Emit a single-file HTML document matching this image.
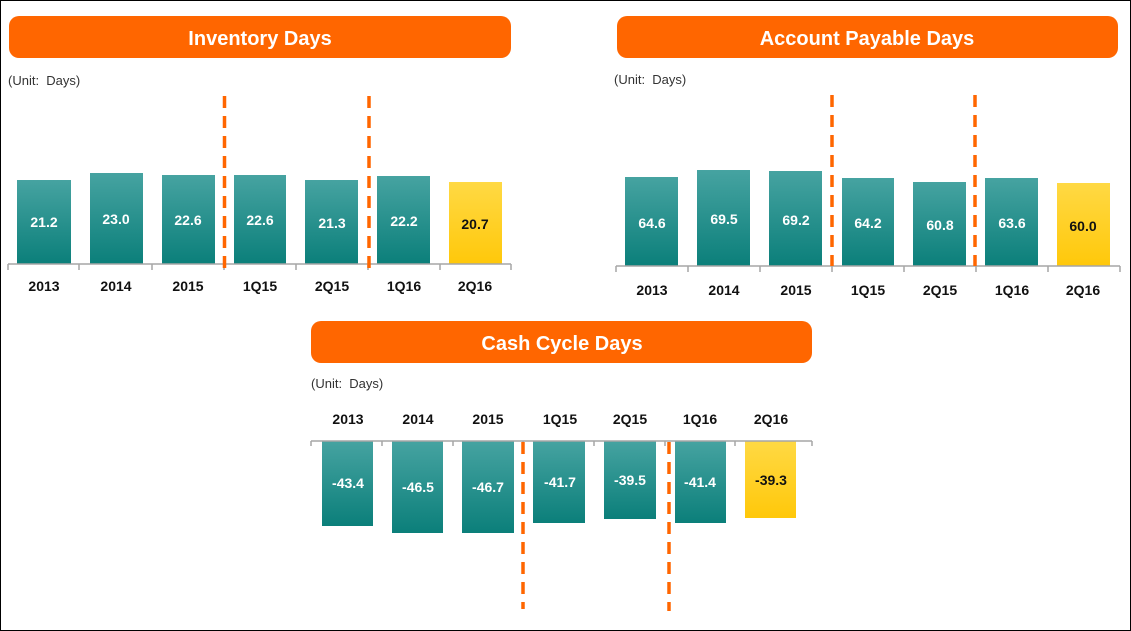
<!DOCTYPE html>
<html><head><meta charset="utf-8"><style>
html,body{margin:0;padding:0;background:#fff}
svg{display:block;font-family:"Liberation Sans",sans-serif}
.t{fill:#fff;font-weight:bold;font-size:20px}
.u{fill:#333;font-size:13px}
.c{font-weight:bold;font-size:14px;fill:#111;text-anchor:middle}
.v{font-weight:bold;font-size:14px;fill:#fff;text-anchor:middle}
.vy{font-weight:bold;font-size:14px;fill:#111;text-anchor:middle}
.ax{stroke:#a6a6a6;stroke-width:1.5;fill:none}
.d{stroke:#ff6600;stroke-width:3.5;stroke-dasharray:12,8}
</style></head><body>
<svg width="1131" height="631" viewBox="0 0 1131 631">
<defs>
<linearGradient id="g" x1="0" y1="0" x2="0" y2="1"><stop offset="0" stop-color="#46a3a1"/><stop offset="1" stop-color="#0b7f7a"/></linearGradient>
<linearGradient id="y" x1="0" y1="0" x2="0" y2="1"><stop offset="0" stop-color="#ffd944"/><stop offset="1" stop-color="#ffc80a"/></linearGradient>
</defs>
<rect x="0.5" y="0.5" width="1130" height="630" fill="#fff" stroke="#000"/>

<!-- Inventory -->
<rect x="9" y="16" width="502" height="42" rx="10" fill="#ff6600"/>
<text class="t" x="260" y="45" text-anchor="middle">Inventory Days</text>
<text class="u" x="8" y="85">(Unit:&#160; Days)</text>
<rect x="17" y="180" width="54" height="84" fill="url(#g)"/>
<rect x="90" y="173" width="53" height="91" fill="url(#g)"/>
<rect x="162" y="175" width="53" height="89" fill="url(#g)"/>
<rect x="234" y="175" width="52" height="89" fill="url(#g)"/>
<rect x="305" y="180" width="53" height="84" fill="url(#g)"/>
<rect x="377" y="176" width="53" height="88" fill="url(#g)"/>
<rect x="449" y="182" width="53" height="82" fill="url(#y)"/>
<path class="ax" d="M8 264H511M8 264v6M79 264v6M152 264v6M224 264v6M296 264v6M368 264v6M440 264v6M511 264v6"/>
<line class="d" x1="224.5" y1="96" x2="224.5" y2="270"/>
<line class="d" x1="369" y1="96" x2="369" y2="270"/>
<g class="v"><text x="44" y="227">21.2</text><text x="116" y="224">23.0</text><text x="188" y="225">22.6</text><text x="260" y="225">22.6</text><text x="332" y="228">21.3</text><text x="404" y="226">22.2</text></g>
<text class="vy" x="475" y="229">20.7</text>
<g class="c"><text x="44" y="291">2013</text><text x="116" y="291">2014</text><text x="188" y="291">2015</text><text x="260" y="291">1Q15</text><text x="332" y="291">2Q15</text><text x="404" y="291">1Q16</text><text x="475" y="291">2Q16</text></g>

<!-- AP -->
<rect x="617" y="16" width="501" height="42" rx="10" fill="#ff6600"/>
<text class="t" x="867" y="45" text-anchor="middle">Account Payable Days</text>
<text class="u" x="614" y="84">(Unit:&#160; Days)</text>
<rect x="625" y="177" width="53" height="89" fill="url(#g)"/>
<rect x="697" y="170" width="53" height="96" fill="url(#g)"/>
<rect x="769" y="171" width="53" height="95" fill="url(#g)"/>
<rect x="842" y="178" width="52" height="88" fill="url(#g)"/>
<rect x="913" y="182" width="53" height="84" fill="url(#g)"/>
<rect x="985" y="178" width="53" height="88" fill="url(#g)"/>
<rect x="1057" y="183" width="53" height="83" fill="url(#y)"/>
<path class="ax" d="M616 266H1120M616 266v6M688 266v6M760 266v6M832 266v6M904 266v6M976 266v6M1048 266v6M1120 266v6"/>
<line class="d" x1="832" y1="95" x2="832" y2="266"/>
<line class="d" x1="975" y1="95" x2="975" y2="266"/>
<g class="v"><text x="652" y="228">64.6</text><text x="724" y="224">69.5</text><text x="796" y="225">69.2</text><text x="868" y="228">64.2</text><text x="940" y="230">60.8</text><text x="1012" y="228">63.6</text></g>
<text class="vy" x="1083" y="231">60.0</text>
<g class="c"><text x="652" y="295">2013</text><text x="724" y="295">2014</text><text x="796" y="295">2015</text><text x="868" y="295">1Q15</text><text x="940" y="295">2Q15</text><text x="1012" y="295">1Q16</text><text x="1083" y="295">2Q16</text></g>

<!-- Cash -->
<rect x="311" y="321" width="501" height="42" rx="10" fill="#ff6600"/>
<text class="t" x="562" y="350" text-anchor="middle">Cash Cycle Days</text>
<text class="u" x="311" y="388">(Unit:&#160; Days)</text>
<g class="c"><text x="348" y="424">2013</text><text x="418" y="424">2014</text><text x="488" y="424">2015</text><text x="560" y="424">1Q15</text><text x="630" y="424">2Q15</text><text x="700" y="424">1Q16</text><text x="771" y="424">2Q16</text></g>
<rect x="322" y="441" width="51" height="85" fill="url(#g)"/>
<rect x="392" y="441" width="51" height="92" fill="url(#g)"/>
<rect x="462" y="441" width="52" height="92" fill="url(#g)"/>
<rect x="533" y="441" width="52" height="82" fill="url(#g)"/>
<rect x="604" y="441" width="52" height="78" fill="url(#g)"/>
<rect x="675" y="441" width="51" height="82" fill="url(#g)"/>
<rect x="745" y="441" width="51" height="77" fill="url(#y)"/>
<path class="ax" d="M311 441H812M311 441v5M382 441v5M453 441v5M523 441v5M594 441v5M665 441v5M735 441v5M812 441v5"/>
<line class="d" x1="523" y1="442" x2="523" y2="609"/>
<line class="d" x1="669" y1="442" x2="669" y2="611"/>
<g class="v"><text x="348" y="488">-43.4</text><text x="418" y="492">-46.5</text><text x="488" y="492">-46.7</text><text x="560" y="487">-41.7</text><text x="630" y="485">-39.5</text><text x="700" y="487">-41.4</text></g>
<text class="vy" x="771" y="485">-39.3</text>
</svg>
</body></html>
